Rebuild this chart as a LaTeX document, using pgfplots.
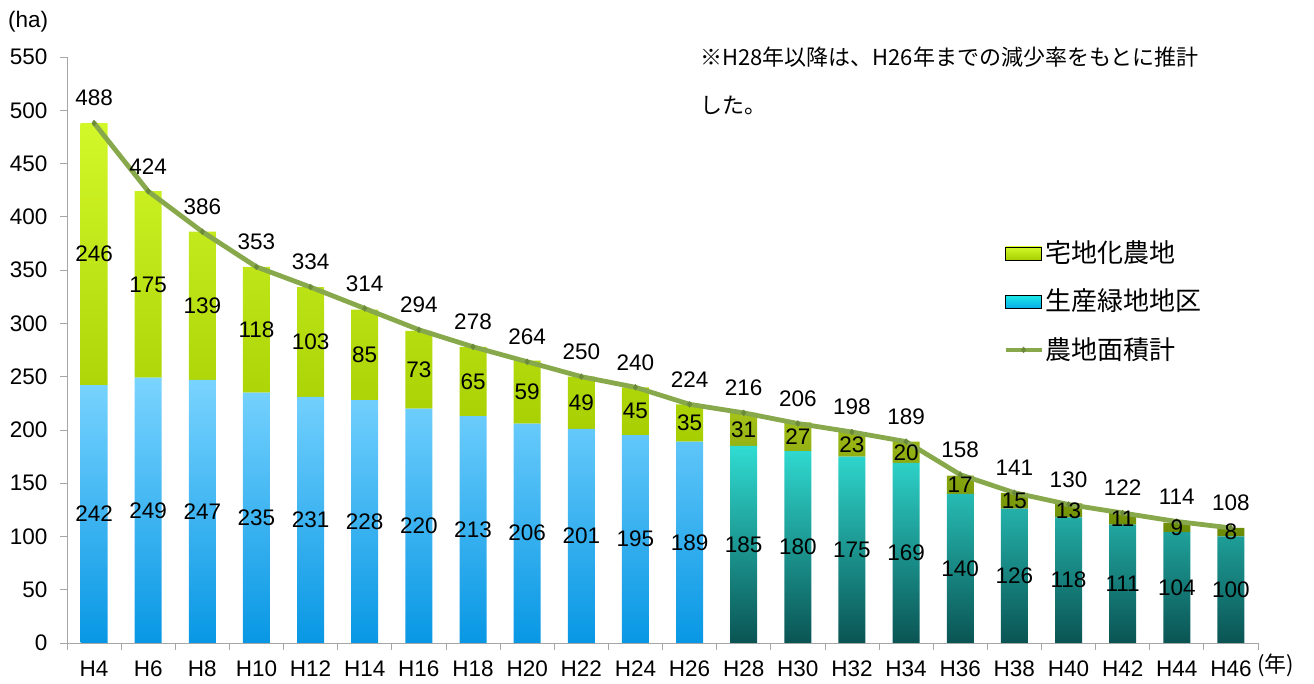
\documentclass[border=0pt]{standalone}
\usepackage{fontspec}
\setmainfont{Liberation Sans}
\newfontfamily\cjk{Noto Sans CJK JP}
\usepackage{pgfplots}
\usepackage{pgfplotstable}
\pgfplotsset{compat=1.18}
\definecolor{grnT}{HTML}{D2F82A}
\definecolor{grnB}{HTML}{A6CE00}
\definecolor{bluT}{HTML}{7AD4FF}
\definecolor{bluB}{HTML}{0897E4}
\definecolor{tealT}{HTML}{30DCD2}
\definecolor{tealB}{HTML}{0A5453}
\definecolor{oliT}{HTML}{A4C218}
\definecolor{oliB}{HTML}{6A8A06}
\definecolor{lineC}{HTML}{88A84C}
\definecolor{markC}{HTML}{6B8A3A}
\definecolor{axg}{HTML}{A6A6A6}
\pgfplotsset{
  linelegend/.style={legend image code/.code={\draw[lineC, line width=4.5pt, mark=diamond*, mark size=3pt, mark options={fill=markC,draw=markC,line width=0.4pt}, mark repeat=2, mark phase=2] plot coordinates {(0pt,0pt) (18pt,0pt) (36pt,0pt)};}},
  grnlegend/.style={legend image code/.code={\shade[top color=grnT,bottom color=grnB] (0pt,-6.5pt) rectangle (36pt,6.5pt);}},
  blulegend/.style={legend image code/.code={\shade[top color=tealT!60!cyan,bottom color=bluB!80!cyan] (0pt,-6.5pt) rectangle (36pt,6.5pt);}},
}
\pgfplotstableread{
x b g t
0 242 246 488
1 249 175 424
2 247 139 386
3 235 118 353
4 231 103 334
5 228 85 314
6 220 73 294
7 213 65 278
8 206 59 264
9 201 49 250
10 195 45 240
11 189 35 224
12 185 31 216
13 180 27 206
14 175 23 198
15 169 20 189
16 140 17 158
17 126 15 141
18 118 13 130
19 111 11 122
20 104 9 114
21 100 8 108
}\data
\begin{document}
\begin{tikzpicture}
\fontsize{22.5pt}{27pt}\selectfont
\path[use as bounding box] (-67pt,-41pt) rectangle (1247pt,643pt);
\pgfplotsset{base/.style={at={(0pt,0pt)}, anchor=south west, scale only axis,
  width=1191pt, height=586pt, xmin=-0.5, xmax=21.5, ymin=0, ymax=550}}
% historical bars
\begin{axis}[base, hide axis, ybar stacked, bar width=27pt]
\addplot[draw=none, top color=bluT, bottom color=bluB, skip coords between index={12}{22}] table[x=x,y=b]{\data};
\addplot[draw=none, top color=grnT, bottom color=grnB, skip coords between index={12}{22}] table[x=x,y=g]{\data};
\end{axis}
% projected bars
\begin{axis}[base, hide axis, ybar stacked, bar width=27pt]
\addplot[draw=none, top color=tealT, bottom color=tealB, skip coords between index={0}{12}] table[x=x,y=b]{\data};
\addplot[draw=none, top color=oliT, bottom color=oliB, skip coords between index={0}{12}] table[x=x,y=g]{\data};
\end{axis}
% axis, line, labels
\begin{axis}[base,
  axis x line*=bottom, axis y line*=left,
  axis line style={axg, line width=0.8pt},
  tick style={axg, line width=0.8pt},
  tick align=outside, major tick length=7pt,
  ytick={0,50,...,550},
  xtick={-0.5,0.5,...,21.5},
  x tick label as interval,
  xticklabels={H4,H6,H8,H10,H12,H14,H16,H18,H20,H22,H24,H26,H28,H30,H32,H34,H36,H38,H40,H42,H44,H46},
  xticklabel style={inner sep=1pt, yshift=-10pt},
  yticklabel style={xshift=-5pt},
  /pgf/number format/assume math mode=true,
  legend cell align=left,
  legend style={draw=none, fill=none, at={(0.786,0.69)}, anchor=north west,
    font=\cjk\fontsize{26pt}{30pt}\selectfont, row sep=19pt, inner sep=0pt,
    /tikz/every odd column/.append style={column sep=0pt}},
]
\addlegendimage{grnlegend}
\addlegendentry{宅地化農地}
\addlegendimage{blulegend}
\addlegendentry{生産緑地地区}
\addplot[sharp plot, color=lineC, line width=4.8pt, line join=round,
  mark=diamond*, mark size=3pt, mark options={fill=markC, draw=markC, line width=0.4pt},
  linelegend]
  table[x=x,y=t]{\data};
\addlegendentry{農地面積計}
% segment labels
\addplot[forget plot, only marks, mark=none, nodes near coords, point meta=explicit symbolic,
  every node near coord/.append style={anchor=center, font=\fontsize{22.5pt}{27pt}\selectfont}]
  table[x=x, y expr=\thisrow{b}/2, meta=b]{\data};
\addplot[forget plot, only marks, mark=none, nodes near coords, point meta=explicit symbolic,
  every node near coord/.append style={anchor=center, font=\fontsize{22.5pt}{27pt}\selectfont}]
  table[x=x, y expr=\thisrow{b}+\thisrow{g}/2, meta=g]{\data};
\addplot[forget plot, only marks, mark=none, nodes near coords, point meta=explicit symbolic,
  every node near coord/.append style={anchor=center, yshift=25pt, font=\fontsize{22.5pt}{27pt}\selectfont}]
  table[x=x, y=t, meta=t]{\data};
\end{axis}
\node[anchor=west, inner sep=0pt] at (-59pt,621pt) {(ha)};
\node[anchor=west, inner sep=0pt, font=\cjk\fontsize{22pt}{26pt}\selectfont] at (1190pt,-22pt) {(年)};
\node[anchor=west, inner sep=0pt, font=\cjk\fontsize{22pt}{26pt}\selectfont] at (633pt,586pt) {※H28年以降は、H26年までの減少率をもとに推計};
\node[anchor=west, inner sep=0pt, font=\cjk\fontsize{22pt}{26pt}\selectfont] at (633pt,538pt) {した。};
\end{tikzpicture}
\end{document}
